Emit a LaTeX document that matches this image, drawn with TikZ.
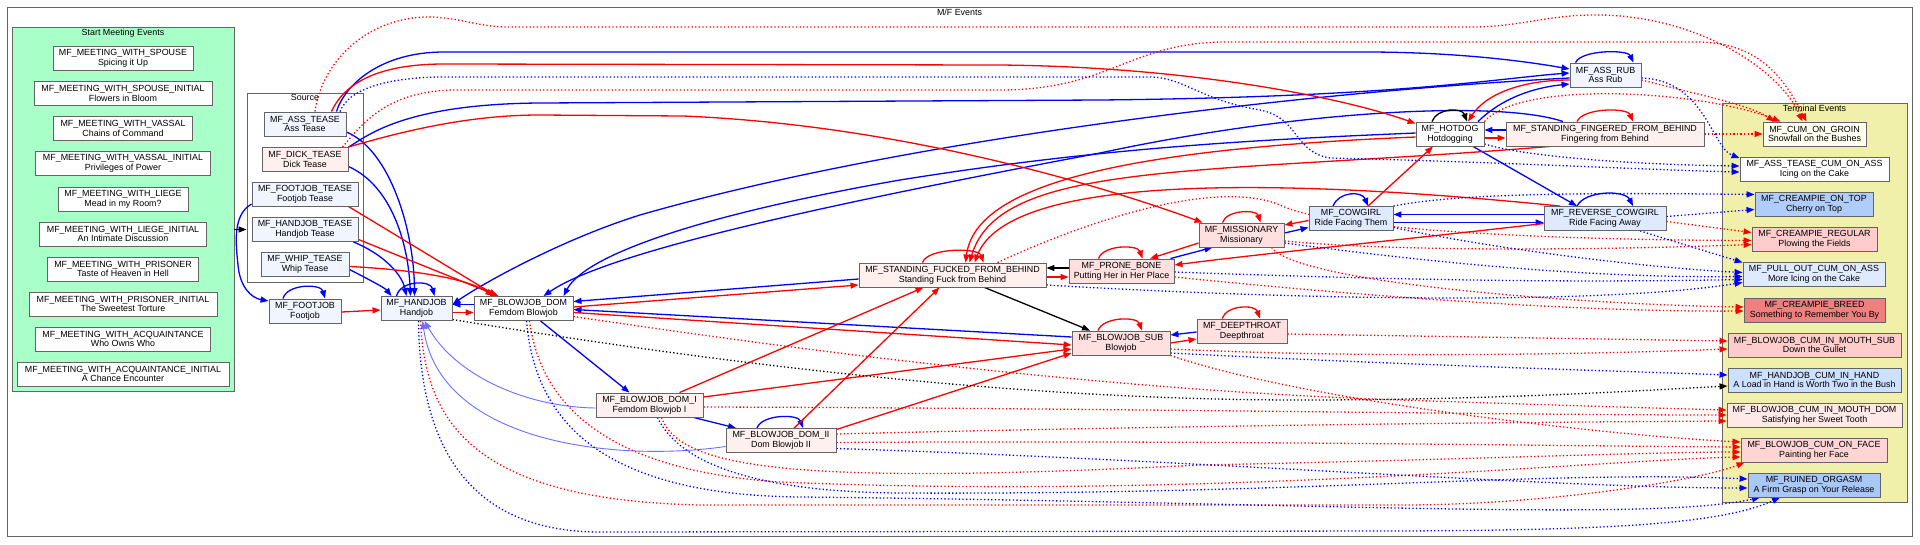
\documentclass[tikz,border=0pt]{standalone}
\usepackage{fontspec}
\setmainfont{Liberation Sans}
\usepackage{tikz}
\usetikzlibrary{arrows.meta,positioning}
\usepackage{xcolor}

\definecolor{evline}{RGB}{100,100,100}
\definecolor{meetfill}{RGB}{168,255,200}
\definecolor{termfill}{RGB}{240,240,170}
\definecolor{paleblue}{RGB}{240,245,255}
\definecolor{palepink}{RGB}{255,240,240}
\definecolor{rosefill}{RGB}{255,224,224}
\definecolor{skyfill}{RGB}{224,234,255}
\definecolor{topfill}{RGB}{176,204,248}
\definecolor{regfill}{RGB}{255,204,204}
\definecolor{breedfill}{RGB}{240,128,128}
\definecolor{handfill}{RGB}{204,224,255}
\definecolor{domfill}{RGB}{255,232,232}
\definecolor{facefill}{RGB}{255,212,212}
\definecolor{ruinfill}{RGB}{168,200,248}
\definecolor{groinfill}{RGB}{255,255,242}
\definecolor{ered}{RGB}{255,0,0}
\definecolor{eblue}{RGB}{0,0,255}
\definecolor{elight}{RGB}{110,110,255}

\newcommand{\evfont}{\fontsize{8.9}{9.7}\selectfont}

\pgfdeclarelayer{background}
\pgfdeclarelayer{edgelayer}
\pgfsetlayers{background,edgelayer,main}

\begin{document}
\begin{tikzpicture}[x=1pt, y=-1pt,
  ev/.style={rectangle, draw=evline, line width=0.9pt, fill=white,
             font=\evfont, align=center, inner sep=1pt,
             minimum height=24pt, minimum width=#1},
  clus/.style={rectangle, draw=evline, line width=0.9pt, fill=white, inner sep=0pt},
  cltitle/.style={font=\evfont, inner sep=1pt},
  barr/.style={-{Triangle[length=8pt,width=6pt]}, draw=eblue, line width=1.3pt},
  rarr/.style={barr, draw=ered},
  karr/.style={barr, draw=black},
  lbarr/.style={barr, draw=elight, line width=0.9pt},
  dots/.style={dash pattern=on 1.3pt off 2.3pt},
  bdot/.style={barr, dots},
  rdot/.style={rarr, dots},
  kdot/.style={karr, dots}
]
\useasboundingbox (0,0) rectangle (1920,544);

\begin{pgfonlayer}{background}
\node[clus, minimum width=1905pt, minimum height=529pt] (mfcl) at (959.5,271.5) {};
\node[clus, fill=meetfill, minimum width=222pt, minimum height=364pt] (startcl) at (123,209) {};
\node[clus, minimum width=116pt, minimum height=189pt] (srccl) at (305,187.5) {};
\node[clus, fill=termfill, minimum width=185pt, minimum height=399pt] (termcl) at (1814.5,302.5) {};
\end{pgfonlayer}

\node[cltitle, below=1pt of mfcl.north]    {M/F Events};
\node[cltitle, below=1pt of startcl.north] {Start Meeting Events};
\node[cltitle, below=1pt of srccl.north]   {Source};
\node[cltitle, below=1pt of termcl.north]  {Terminal Events};

\node[ev=140pt] (msp)  at (123,58.5)  {MF\_MEETING\_WITH\_SPOUSE\\Spicing it Up};
\node[ev=178pt] (mspi) at (123,93.5)  {MF\_MEETING\_WITH\_SPOUSE\_INITIAL\\Flowers in Bloom};
\node[ev=139pt] (mva)  at (123,128.5) {MF\_MEETING\_WITH\_VASSAL\\Chains of Command};
\node[ev=175pt] (mvai) at (123,163.5) {MF\_MEETING\_WITH\_VASSAL\_INITIAL\\Privileges of Power};
\node[ev=130pt] (mli)  at (123,199)   {MF\_MEETING\_WITH\_LIEGE\\Mead in my Room?};
\node[ev=167pt] (mlii) at (123,234)   {MF\_MEETING\_WITH\_LIEGE\_INITIAL\\An Intimate Discussion};
\node[ev=151pt] (mpr)  at (123,269)   {MF\_MEETING\_WITH\_PRISONER\\Taste of Heaven in Hell};
\node[ev=188pt] (mpri) at (123,304)   {MF\_MEETING\_WITH\_PRISONER\_INITIAL\\The Sweetest Torture};
\node[ev=175pt] (maq)  at (123,339)   {MF\_MEETING\_WITH\_ACQUAINTANCE\\Who Owns Who};
\node[ev=212pt] (maqi) at (123,374)   {MF\_MEETING\_WITH\_ACQUAINTANCE\_INITIAL\\A Chance Encounter};

\node[ev=82pt,  fill=paleblue] (ast) at (305,124)   {MF\_ASS\_TEASE\\Ass Tease};
\node[ev=86pt,  fill=palepink] (dte) at (305,159.5) {MF\_DICK\_TEASE\\Dick Tease};
\node[ev=106pt, fill=paleblue] (fte) at (305,194)   {MF\_FOOTJOB\_TEASE\\Footjob Tease};
\node[ev=106pt, fill=paleblue] (hte) at (305,229.5) {MF\_HANDJOB\_TEASE\\Handjob Tease};
\node[ev=88pt,  fill=paleblue] (wte) at (305,264.5) {MF\_WHIP\_TEASE\\Whip Tease};

\node[ev=72pt,  fill=paleblue] (fj)   at (305,311)     {MF\_FOOTJOB\\Footjob};
\node[ev=71pt,  fill=paleblue] (hj)   at (416.5,308.5) {MF\_HANDJOB\\Handjob};
\node[ev=99pt]                 (bjd)  at (523.5,308.5) {MF\_BLOWJOB\_DOM\\Femdom Blowjob};
\node[ev=107pt, fill=palepink] (bjd1) at (649.5,405)   {MF\_BLOWJOB\_DOM\_I\\Femdom Blowjob I};
\node[ev=110pt, fill=palepink] (bjd2) at (781,440.5)   {MF\_BLOWJOB\_DOM\_II\\Dom Blowjob II};
\node[ev=187pt, fill=palepink] (sfb)  at (952.5,275)   {MF\_STANDING\_FUCKED\_FROM\_BEHIND\\Standing Fuck from Behind};
\node[ev=105pt, fill=rosefill] (pb)   at (1121.5,271)  {MF\_PRONE\_BONE\\Putting Her in Her Place};
\node[ev=98pt,  fill=rosefill] (bjs)  at (1121,343)    {MF\_BLOWJOB\_SUB\\Blowjob};
\node[ev=90pt,  fill=rosefill] (dt)   at (1242,331)    {MF\_DEEPTHROAT\\Deepthroat};
\node[ev=85pt,  fill=rosefill] (mi)   at (1241.5,235)  {MF\_MISSIONARY\\Missionary};
\node[ev=84pt,  fill=skyfill]  (cg)   at (1351,218.5)  {MF\_COWGIRL\\Ride Facing Them};
\node[ev=68pt]                 (hd)   at (1450,134)    {MF\_HOTDOG\\Hotdogging};
\node[ev=71pt,  fill=paleblue] (arb)  at (1605.5,75)   {MF\_ASS\_RUB\\Ass Rub};
\node[ev=198pt, fill=palepink] (sfg)  at (1605,134)    {MF\_STANDING\_FINGERED\_FROM\_BEHIND\\Fingering from Behind};
\node[ev=122pt, fill=skyfill]  (rcg)  at (1605,218.5)  {MF\_REVERSE\_COWGIRL\\Ride Facing Away};

\node[ev=103pt, fill=groinfill] (cog) at (1814.5,134)   {MF\_CUM\_ON\_GROIN\\Snowfall on the Bushes};
\node[ev=149pt]                 (atc) at (1814.5,169)   {MF\_ASS\_TEASE\_CUM\_ON\_ASS\\Icing on the Cake};
\node[ev=118pt, fill=topfill]   (cot) at (1814,204.5)   {MF\_CREAMPIE\_ON\_TOP\\Cherry on Top};
\node[ev=125pt, fill=regfill]   (crg) at (1814.5,239.5) {MF\_CREAMPIE\_REGULAR\\Plowing the Fields};
\node[ev=142pt, fill=skyfill]   (poc) at (1814,274.5)   {MF\_PULL\_OUT\_CUM\_ON\_ASS\\More Icing on the Cake};
\node[ev=141pt, fill=breedfill] (cbr) at (1814.5,310)   {MF\_CREAMPIE\_BREED\\Something to Remember You By};
\node[ev=173pt, fill=regfill]   (bms) at (1814.5,345)   {MF\_BLOWJOB\_CUM\_IN\_MOUTH\_SUB\\Down the Gullet};
\node[ev=173pt, fill=handfill]  (hch) at (1814.5,380)   {MF\_HANDJOB\_CUM\_IN\_HAND\\A Load in Hand is Worth Two in the Bush};
\node[ev=175pt, fill=domfill]   (bmd) at (1814.5,415)   {MF\_BLOWJOB\_CUM\_IN\_MOUTH\_DOM\\Satisfying her Sweet Tooth};
\node[ev=146pt, fill=facefill]  (bcf) at (1814,450)     {MF\_BLOWJOB\_CUM\_ON\_FACE\\Painting her Face};
\node[ev=132pt, fill=ruinfill]  (ruo) at (1814,485)     {MF\_RUINED\_ORGASM\\A Firm Grasp on Your Release};

\begin{pgfonlayer}{edgelayer}
\draw[barr] ([xshift=-10pt]ast.north east) .. controls (345,85) and (380,52) .. (444,52) -- (1365,52) .. controls (1460,52) and (1530,62) .. ([yshift=6pt]arb.west);
\draw[barr] (dte.north east) .. controls (365,138) and (400,104) .. (540,103) -- (1100,100) .. controls (1400,97) and (1500,78) .. ([yshift=2pt]arb.west);
\draw[barr] ([yshift=-3pt]arb.west) .. controls (1300,92) and (900,140) .. (640,215) .. controls (560,240) and (480,285) .. ([yshift=4pt]hj.east);
\draw[barr] ([yshift=1pt]hd.west) .. controls (1250,140) and (1100,148) .. (900,180) .. controls (700,215) and (585,255) .. ([xshift=40pt]bjd.north);
\draw[barr] ([xshift=-42pt]sfg.north) .. controls (1500,100) and (1300,110) .. (1100,153) .. controls (850,200) and (610,250) .. ([xshift=20pt]bjd.north);
\draw[barr] ([yshift=4pt]sfg.west) -- ([yshift=4pt]hd.east);
\draw[barr] ([xshift=28pt]hd.north) .. controls (1500,100) and (1530,88) .. ([yshift=-9pt]arb.west);
\draw[barr] ([xshift=23pt]hd.south) -- ([xshift=-28pt]rcg.north);
\draw[barr] ([xshift=-28pt]rcg.north) .. controls +(8,-16) and +(-8,-16) .. ([xshift=28pt]rcg.north);
\draw[barr] ([yshift=4pt]rcg.west) -- ([yshift=4pt]cg.east);
\draw[barr] ([yshift=-4pt]cg.east) -- ([yshift=-4pt]rcg.west);
\draw[barr] ([xshift=-18pt]cg.north) .. controls +(6,-15) and +(-6,-15) .. ([xshift=17pt]cg.north);
\draw[barr] ([yshift=2pt]mi.east) -- ([yshift=-9pt]cg.west);
\draw[barr] ([xshift=-4pt]pb.north east) -- ([xshift=-29pt]mi.south);
\draw[barr] ([yshift=-4pt]sfb.west) -- ([yshift=7pt]bjd.east);
\draw[barr] ([yshift=6pt]bjs.west) -- ([yshift=-1pt]bjd.east);
\draw[barr] ([yshift=-1pt]dt.west) -- ([yshift=8pt]bjs.east);
\draw[barr, line width=0.9pt] ([yshift=4pt]bjd.west) -- ([yshift=4pt]hj.east);
\draw[barr] ([xshift=-20pt]hj.north) .. controls +(4,-16) and +(-4,-16) .. ([xshift=18pt]hj.north);
\draw[barr] ([yshift=-8pt]ast.east) .. controls (390,150) and (414,230) .. ([xshift=-2pt]hj.north);
\draw[barr] ([yshift=-7pt]dte.east) .. controls (390,185) and (408,240) .. ([xshift=-6pt]hj.north);
\draw[barr] ([xshift=-5pt]hte.south east) .. controls (385,255) and (402,275) .. ([xshift=-10pt]hj.north);
\draw[barr] ([yshift=-5pt]wte.east) .. controls (370,280) and (385,288) .. ([xshift=-25pt]hj.north);
\draw[barr] ([yshift=-10pt]fte.west) .. controls (232,215) and (236,245) .. (238,265) .. controls (240,288) and (252,298) .. ([yshift=10pt]fj.west);
\draw[barr] ([xshift=-22pt]fj.north) .. controls +(4,-15) and +(-4,-15) .. ([xshift=20pt]fj.north);
\draw[barr] ([xshift=17pt]bjd.south) -- ([xshift=-20pt]bjd1.north);
\draw[barr] ([xshift=44pt]bjd1.south) -- ([xshift=-45pt]bjd2.north);
\draw[barr] ([xshift=-24pt]bjd2.north) .. controls +(5,-14) and +(-5,-14) .. ([xshift=22pt]bjd2.north);
\draw[barr] ([xshift=-30pt]arb.north) .. controls +(6,-13) and +(-6,-13) .. ([xshift=28pt]arb.north);
\draw[lbarr] ([yshift=-3pt]bjd1.west) .. controls (525,407) and (455,375) .. ([xshift=8pt]hj.south);
\draw[lbarr] ([yshift=-6pt]bjd2.west) .. controls (620,462) and (440,445) .. ([xshift=6pt]hj.south);

\draw[rarr] ([xshift=-15pt]ast.north east) .. controls (345,82) and (380,64) .. (444,64) -- (1000,65) .. controls (1200,67) and (1350,100) .. ([yshift=-2pt]hd.north west);
\draw[rarr] (dte.north east) .. controls (420,126) and (480,115) .. (540,115) -- (683,116) .. controls (900,125) and (1100,185) .. ([xshift=4pt]mi.north west);
\draw[rarr] ([xshift=-10pt]fte.south east) -- ([xshift=-27pt]bjd.north);
\draw[rarr] ([yshift=-10pt]hte.east) -- ([xshift=-25pt]bjd.north);
\draw[rarr] ([yshift=-2pt]wte.east) .. controls (420,270) and (470,280) .. ([xshift=-30pt]bjd.north);
\draw[rarr] ([yshift=-1pt]fj.east) -- ([yshift=-1.5pt]hj.west);
\draw[rarr] ([yshift=-4pt]hj.east) -- ([yshift=-4pt]bjd.west);
\draw[rarr] ([yshift=1.5pt]bjd.east) -- ([yshift=-10pt]sfb.west);
\draw[rarr] ([yshift=-4pt]bjd.east) -- ([yshift=-2pt]bjs.west);
\draw[rarr] ([xshift=30pt]bjd1.north) -- ([xshift=-29pt]sfb.south);
\draw[rarr] ([xshift=13pt]bjd2.north) -- ([xshift=-13pt]sfb.south);
\draw[rarr] ([yshift=8pt]bjd1.east) -- ([yshift=-6pt]bjs.west);
\draw[rarr] ([yshift=11pt]bjd2.east) -- ([yshift=-10pt]bjs.west);
\draw[rarr] ([xshift=-30pt]sfb.north) .. controls +(5,-15) and +(-5,-15) .. ([xshift=31pt]sfb.north);
\draw[rarr] ([yshift=-3pt]hd.west) .. controls (1100,150) and (975,190) .. ([xshift=13pt]sfb.north);
\draw[rarr] ([xshift=-55pt]sfg.south) .. controls (1200,175) and (1000,160) .. ([xshift=17pt]sfb.north);
\draw[rarr] ([xshift=-45pt]rcg.north) .. controls (1300,180) and (1010,170) .. ([xshift=22pt]sfb.north);
\draw[rarr] ([yshift=-5pt]rcg.west) .. controls (1400,240) and (1250,255) .. ([yshift=6pt]pb.east);
\draw[rarr] ([yshift=-8pt]mi.west) -- ([xshift=28.5pt]pb.north);
\draw[rarr] ([yshift=-2pt]cg.west) -- ([yshift=10pt]mi.east);
\draw[rarr] ([xshift=17pt]cg.north) -- ([xshift=-17pt]hd.south);
\draw[rarr] ([yshift=-4pt]hd.east) -- ([yshift=-4pt]sfg.west);
\draw[rarr] ([yshift=-5pt]arb.west) .. controls (1520,80) and (1485,95) .. ([xshift=18pt]hd.north);
\draw[rarr] ([xshift=-19pt]mi.north) .. controls +(4,-13) and +(-4,-13) .. ([xshift=19pt]mi.north);
\draw[rarr] ([xshift=-23pt]pb.north) .. controls +(5,-14) and +(-5,-14) .. ([xshift=21pt]pb.north);
\draw[rarr] ([xshift=-23pt]bjs.north) .. controls +(5,-14) and +(-5,-14) .. ([xshift=21pt]bjs.north);
\draw[rarr] ([xshift=-20pt]dt.north) .. controls +(5,-14) and +(-5,-14) .. ([xshift=18pt]dt.north);
\draw[rarr] ([xshift=-28pt]sfg.north) .. controls +(6,-14) and +(-6,-14) .. ([xshift=28pt]sfg.north);
\draw[rarr] ([yshift=-2pt]sfb.east) -- ([yshift=-6pt]pb.west);
\draw[rarr] (bjs.east) -- ([yshift=-8pt]dt.west);

\draw[karr] ([yshift=3pt]pb.west) -- ([yshift=7pt]sfb.east);
\draw[karr] ([xshift=32pt]sfb.south) -- ([xshift=-31pt]bjs.north);
\draw[karr] ([xshift=-18pt]hd.north) .. controls +(5,-14) and +(-5,-14) .. ([xshift=17pt]hd.north);
\draw[karr] (startcl.east |- hte.west) -- (srccl.west |- hte.west);

\draw[rdot] ([xshift=10pt]ast.north) .. controls (322,60) and (370,15) .. (433,17) .. controls (465,19) and (480,27) .. (508,27) -- (1472,27) .. controls (1520,27) and (1550,14) .. (1601,15) .. controls (1700,17) and (1780,70) .. ([xshift=-12pt]cog.north);
\draw[rdot] ([xshift=-6pt]dte.north east) .. controls (365,120) and (390,91) .. (454,90) -- (1000,90) .. controls (1110,90) and (1130,42) .. (1226,42) -- (1697,42) .. controls (1760,42) and (1785,80) .. ([xshift=-8pt]cog.north);
\draw[rdot] ([yshift=-5pt]arb.east) .. controls (1700,95) and (1750,105) .. ([xshift=-40pt]cog.north);
\draw[rdot] (hd.north east) .. controls (1520,80) and (1700,90) .. ([xshift=-34pt]cog.north);
\draw[rdot] (sfg.east) -- (cog.west);
\draw[rdot] ([yshift=-3pt]rcg.east) -- ([yshift=7pt]crg.west);
\draw[rdot] ([xshift=45pt]sfb.north) .. controls (1100,215) and (1220,180) .. (1280,205) .. controls (1330,230) and (1550,240) .. ([yshift=-1pt]crg.west);
\draw[rdot] ([yshift=-6pt]mi.east) .. controls (1400,252) and (1600,250) .. ([yshift=-5pt]crg.west);
\draw[rdot] ([xshift=30pt]mi.south) .. controls (1300,285) and (1600,305) .. ([yshift=3pt]cbr.west);
\draw[rdot] ([yshift=-6pt]pb.east) .. controls (1400,300) and (1600,312) .. ([yshift=-1pt]cbr.west);
\draw[rdot] ([yshift=-3pt]dt.east) -- ([yshift=4pt]bms.west);
\draw[rdot] ([yshift=-6pt]bjs.east) .. controls (1400,360) and (1650,352) .. ([yshift=-4pt]bms.west);
\draw[rdot] ([yshift=-8pt]bjd.east) .. controls (800,350) and (1100,390) .. (1400,400) .. controls (1550,405) and (1650,408) .. ([yshift=5pt]bmd.west);
\draw[rdot] ([yshift=-2pt]bjd1.east) .. controls (1100,408) and (1500,415) .. (bmd.west);
\draw[rdot] ([yshift=6.5pt]bjd2.east) .. controls (1200,425) and (1550,422) .. ([yshift=-6pt]bmd.west);
\draw[rdot] (bjs.south east) .. controls (1300,400) and (1600,435) .. ([yshift=8pt]bcf.west);
\draw[rdot] ([yshift=-2pt]bjd2.east) .. controls (1200,440) and (1550,446) .. ([yshift=3pt]bcf.west);
\draw[rdot] ([xshift=12pt]bjd1.south) .. controls (680,470) and (800,485) .. (1200,465) .. controls (1450,460) and (1650,452) .. ([yshift=-2pt]bcf.west);
\draw[rdot] ([xshift=6pt]bjd.south) .. controls (540,400) and (600,470) .. (780,482) .. controls (1200,500) and (1600,460) .. ([yshift=-7pt]bcf.west);
\draw[rdot] ([xshift=4pt]hj.south) .. controls (425,420) and (470,500) .. (700,505) -- (1400,505) .. controls (1550,505) and (1700,480) .. ([xshift=4pt]bcf.south west);

\draw[bdot] ([xshift=35pt]ast.north) .. controls (350,85) and (400,76) .. (454,77) -- (1151,77) .. controls (1185,78) and (1200,100) .. (1260,110) .. controls (1300,118) and (1293,152) .. (1330,158) .. controls (1500,162) and (1650,170) .. ([yshift=-3pt]atc.west);
\draw[bdot] ([yshift=-3pt]arb.east) .. controls (1705,80) and (1712,148) .. ([yshift=11pt]atc.west);
\draw[bdot] ([yshift=-10pt]hd.east) .. controls (1530,158) and (1650,165) .. ([yshift=3pt]atc.west);
\draw[bdot] (cg.north east) .. controls (1450,195) and (1550,192) .. ([yshift=10pt]cot.west);
\draw[bdot] ([yshift=2pt]rcg.east) -- ([yshift=-5pt]cot.west);
\draw[bdot] ([xshift=35pt]rcg.south) -- ([yshift=12pt]poc.west);
\draw[bdot] ([yshift=-9pt]cg.east) .. controls (1500,250) and (1650,268) .. ([yshift=2pt]poc.west);
\draw[bdot] ([yshift=-8pt]mi.east) .. controls (1450,265) and (1600,278) .. ([yshift=-2pt]poc.west);
\draw[bdot] ([yshift=-1pt]pb.east) .. controls (1450,282) and (1600,282) .. ([yshift=-5pt]poc.west);
\draw[bdot] ([yshift=-10pt]sfb.east) .. controls (1300,300) and (1600,305) .. ([yshift=-8pt]poc.west);
\draw[bdot] ([yshift=-10pt]bjs.east) .. controls (1400,365) and (1650,372) .. ([yshift=5pt]hch.west);
\draw[bdot] ([xshift=8pt]bjd1.south) .. controls (680,465) and (760,492) .. (900,493) .. controls (1300,495) and (1550,470) .. ([yshift=6pt]ruo.west);
\draw[bdot] ([yshift=-8pt]bjd2.east) .. controls (1200,460) and (1550,488) .. ([yshift=-3pt]ruo.west);
\draw[bdot] ([xshift=3pt]bjd.south) .. controls (535,420) and (600,495) .. (800,497) .. controls (1300,502) and (1650,522) .. ([xshift=-54pt]ruo.south);
\draw[bdot] ([xshift=2pt]hj.south) .. controls (420,460) and (480,532) .. (600,532) -- (1400,531) .. controls (1600,530) and (1720,525) .. ([xshift=-34pt]ruo.south);

\draw[kdot] ([yshift=-11pt]hj.east) .. controls (700,360) and (1000,400) .. (1300,400) .. controls (1500,400) and (1650,390) .. ([yshift=-6pt]hch.west);
\end{pgfonlayer}
\end{tikzpicture}
\end{document}
